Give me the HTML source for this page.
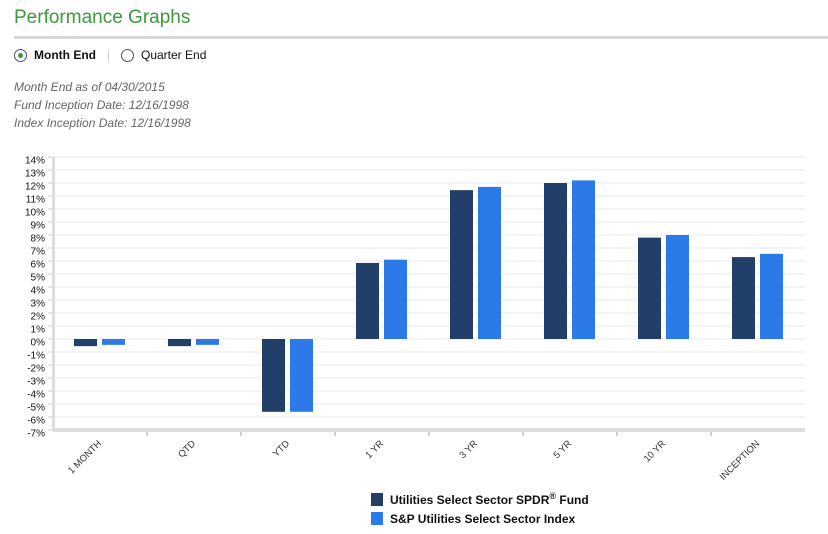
<!DOCTYPE html>
<html><head><meta charset="utf-8"><style>
body{margin:0;width:828px;height:534px;background:#fff;font-family:"Liberation Sans",sans-serif;position:relative;overflow:hidden}
.abs{position:absolute}
</style></head><body>
<div class="abs" style="left:14px;top:7px;font-size:19px;color:#3b9a3a;">Performance Graphs</div>
<div class="abs" style="left:14px;top:36px;width:814px;height:3px;background:#d6d6d6"></div>
<div class="abs" style="left:14px;top:49px;width:11px;height:11px;border:1px solid #456;border-radius:50%;"><div style="position:absolute;left:3px;top:3px;width:5px;height:5px;border-radius:50%;background:#3a9b3a"></div></div>
<div class="abs" style="left:34px;top:48px;font-size:12px;font-weight:bold;color:#111">Month End</div>
<div class="abs" style="left:107px;top:48px;font-size:12px;color:#ccc">|</div>
<div class="abs" style="left:121px;top:49px;width:11px;height:11px;border:1px solid #456;border-radius:50%;"></div>
<div class="abs" style="left:141px;top:48px;font-size:12px;color:#111">Quarter End</div>
<div class="abs" style="left:14px;top:78px;font-size:12px;font-style:italic;color:#666;line-height:18px">Month End as of 04/30/2015<br>Fund Inception Date: 12/16/1998<br>Index Inception Date: 12/16/1998</div>
<svg class="abs" style="left:0;top:0" width="828" height="534">
<g id="grid"></g><g id="bars"></g><g id="labels"></g>
<rect x="371" y="493" width="12" height="13" fill="#213f68"/>
<text x="390" y="504" font-size="12" font-weight="bold" fill="#111">Utilities Select Sector SPDR<tspan font-size="9" dy="-5">®</tspan><tspan dy="5"> Fund</tspan></text>
<rect x="371" y="512" width="12" height="13" fill="#2b7ae8"/>
<text x="390" y="523" font-size="12" font-weight="bold" fill="#111">S&amp;P Utilities Select Sector Index</text>
</svg>
<script>
const categories=["1 MONTH","QTD","YTD","1 YR","3 YR","5 YR","10 YR","INCEPTION"];
const fundValues=[-0.55,-0.55,-5.6,5.85,11.45,12.0,7.8,6.3];
const indexValues=[-0.45,-0.45,-5.6,6.1,11.7,12.2,8.0,6.55];
const tickValues=[14,13,12,11,10,9,8,7,6,5,4,3,2,1,0,-1,-2,-3,-4,-5,-6,-7];
const NS="http://www.w3.org/2000/svg";
const L=53,R=805,step=(R-L)/categories.length;
const y=v=>339-v*13;
const xc=i=>L+step*(i+0.5);
function mk(t,a,p){const e=document.createElementNS(NS,t);for(const k in a)e.setAttribute(k,a[k]);p.appendChild(e);return e;}
const g=document.getElementById('grid'),b=document.getElementById('bars'),lb=document.getElementById('labels');
tickValues.forEach(v=>{
 const ln=mk('line',{x1:L,x2:R,y1:y(v),y2:y(v),stroke:'#e8e8e8','stroke-width':1},g);
 
 
 mk('line',{x1:L-5,x2:L,y1:y(v),y2:y(v),stroke:'#ccd',"stroke-width":1},g);
 const t=mk('text',{x:45,y:y(v)+6.5,'text-anchor':'end','font-size':10,fill:'#111'},g);
 t.textContent=v+'%';
 
 
});
mk('rect',{x:L-1,y:157,width:3,height:273,fill:'#ddd'},g);
mk('rect',{x:L,y:428,width:R-L,height:4,fill:'#ddd'},g);
for(let i=1;i<categories.length;i++)mk('rect',{x:L+step*i-1,y:432,width:2,height:4,fill:'#c8d0e0'},g);
function bar(v,x,c,n){const y0=y(0),y1=y(v);const r=mk('rect',{x:x,y:Math.min(y0,y1),width:23,height:Math.abs(y1-y0),fill:c},b);
 
 }
categories.forEach((c,i)=>{
 bar(fundValues[i],xc(i)-26,'#213f68','fund-bar');
 bar(indexValues[i],xc(i)+2,'#2b7ae8','index-bar');
 const x=xc(i)+2,yy=444;
 const t=mk('text',{x:x,y:yy,'text-anchor':'end','font-size':9.5,fill:'#333',transform:`rotate(-45 ${x} ${yy})`},lb);
 t.textContent=c;
 
 
});
</script>
</body></html>
